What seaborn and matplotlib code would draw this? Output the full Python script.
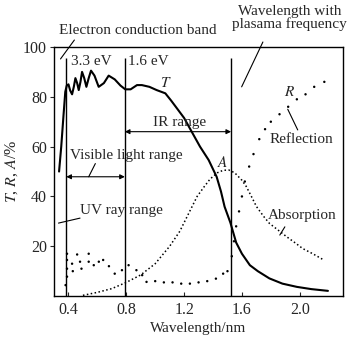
import matplotlib
matplotlib.use("Agg")
import matplotlib.pyplot as plt
import seaborn as sns
import pandas as pd

# Transmission T (%)
t_wavelength = [0.335, 0.35, 0.365, 0.378, 0.388, 0.40, 0.412, 0.425, 0.437, 0.448, 0.46,
                0.471, 0.483, 0.494, 0.509, 0.524, 0.54, 0.556, 0.58, 0.609, 0.645, 0.678,
                0.72, 0.76, 0.793, 0.83, 0.874, 0.908, 0.96, 1.01, 1.07, 1.11, 1.15, 1.20,
                1.24, 1.31, 1.37, 1.425, 1.455, 1.48, 1.52, 1.56, 1.60, 1.655, 1.71, 1.79,
                1.88, 1.98, 2.08, 2.195]
t_values = [50, 60, 72, 82, 84.5, 85, 82.5, 81, 84, 87.5, 85.5,
            82.7, 86, 90, 87.5, 84, 87.5, 90.5, 88.5, 84, 85.5, 88.5,
            87, 84.5, 83, 83, 84.7, 84.7, 84, 82.7, 81.4, 78.5, 75.4, 71.5,
            67.3, 60, 54.6, 47.9, 42, 35.9, 29.5, 21.5, 17, 12.4, 10, 7.1,
            5, 3.7, 2.8, 2.1]

# Absorption A (%)
a_wavelength = [0.5, 0.6, 0.7, 0.8, 0.9, 1.0, 1.05, 1.1, 1.17, 1.23, 1.29, 1.34, 1.38,
                1.43, 1.47, 1.51, 1.55, 1.6, 1.63, 1.67, 1.70, 1.75, 1.79, 1.85, 1.91,
                1.97, 2.02, 2.09, 2.16]
a_values = [0.3, 1.5, 3, 5.5, 8.5, 13, 16.5, 20, 26, 33, 40, 44, 47,
            49.5, 50.5, 50.6, 49.5, 46.5, 44, 39.5, 36, 32, 29.2, 26.5, 23.8,
            21.3, 19.1, 17, 14.7]

# Reflection R (%)
r_wavelength = [0.38, 0.39, 0.39, 0.39, 0.39, 0.425, 0.43, 0.46, 0.48, 0.49, 0.54, 0.54,
                0.575, 0.61, 0.64, 0.68, 0.72, 0.77, 0.816, 0.87, 0.91, 0.94, 1.0, 1.06,
                1.12, 1.18, 1.24, 1.30, 1.36, 1.42, 1.47, 1.50, 1.53, 1.545, 1.56, 1.58,
                1.60, 1.62, 1.65, 1.68, 1.72, 1.76, 1.80, 1.86, 1.92, 1.98, 2.04, 2.10, 2.17]
r_values = [4.4, 7.8, 11, 14.5, 17, 13, 10, 16.7, 13.8, 11, 17, 13.8,
            12.4, 13.8, 14.5, 12, 9, 10.4, 12.4, 10.4, 8.4, 5.7, 6, 5.5,
            5.5, 5, 5, 5.5, 6, 7, 9, 10, 16, 22, 28, 34,
            40, 46, 52, 57, 63, 67, 70, 73, 76, 79, 81, 84, 86]

x_ticks = [0.4, 0.8, 1.2, 1.6, 2.0]
y_ticks = [20, 40, 60, 80, 100]
band_edges = [0.385, 0.79, 1.525]

sns.set_theme(style="ticks")
plt.rcParams["font.family"] = ["Liberation Serif", "DejaVu Serif"]
plt.rcParams["mathtext.fontset"] = "stix"

fig = plt.figure(figsize=(3.53, 3.38), dpi=100)
ax = fig.add_axes([0.153, 0.124, 0.819, 0.737])

t_df = pd.DataFrame({"wl": t_wavelength, "v": t_values})
a_df = pd.DataFrame({"wl": a_wavelength, "v": a_values})
r_df = pd.DataFrame({"wl": r_wavelength, "v": r_values})

sns.lineplot(data=t_df, x="wl", y="v", ax=ax, color="black", linewidth=1.5, sort=False)
sns.lineplot(data=a_df, x="wl", y="v", ax=ax, color="black", linewidth=1.1,
             linestyle=(0, (1, 1.6)), sort=False)
sns.scatterplot(data=r_df, x="wl", y="v", ax=ax, color="black", s=3, marker="o",
                edgecolor="none")

for xe in band_edges:
    ax.vlines(xe, 0, 95.5, color="black", linewidth=1.0)

ax.set_xlim(0.30, 2.30)
ax.set_ylim(0, 100)
ax.set_xticks(x_ticks)
ax.set_xticklabels([f"{v:.1f}" for v in x_ticks])
ax.set_yticks(y_ticks)
ax.set_yticklabels([str(v) for v in y_ticks])
ax.tick_params(axis="x", direction="in", length=3, width=0.8, labelsize=11.5, pad=4)
ax.tick_params(axis="y", direction="out", length=3, width=0.8, labelsize=11.5, pad=2)
for sp in ax.spines.values():
    sp.set_linewidth(1.0)
    sp.set_color("black")

ax.set_xlabel("Wavelength/nm", fontsize=11, labelpad=3)
ax.set_ylabel("$T$, $R$, $A$/%", fontsize=11.5, labelpad=2)

fs = 11
# range arrows
arrow = dict(arrowstyle="<|-|>", color="black", lw=0.8, mutation_scale=7,
             shrinkA=0, shrinkB=0)
ax.annotate("", xy=(band_edges[0], 47.9), xytext=(band_edges[1], 47.9), arrowprops=arrow)
ax.annotate("", xy=(band_edges[1], 66), xytext=(band_edges[2], 66), arrowprops=arrow)

ax.text(0.41, 56.5, "Visible light range", fontsize=fs, ha="left", va="center")
ax.plot([0.586, 0.54], [53.2, 47.9], color="black", lw=0.8)
ax.text(0.483, 34.5, "UV ray range", fontsize=fs, ha="left", va="center")
ax.plot([0.331, 0.48], [29.3, 31.3], color="black", lw=0.8)
ax.text(0.985, 69.5, "IR range", fontsize=fs, ha="left", va="center")

ax.text(0.42, 94.0, "3.3 eV", fontsize=fs, ha="left", va="center")
ax.text(0.814, 94.0, "1.6 eV", fontsize=fs, ha="left", va="center")
ax.text(1.075, 85.5, "$T$", fontsize=fs, ha="center", va="center")
ax.text(1.47, 53.5, "$A$", fontsize=fs, ha="center", va="center")
ax.text(1.93, 82, "$R$", fontsize=fs, ha="center", va="center")
ax.plot([1.917, 1.986], [75, 66.7], color="black", lw=0.8)
ax.text(2.23, 63, "Reflection", fontsize=fs, ha="right", va="center")
ax.text(2.255, 32.5, "Absorption", fontsize=fs, ha="right", va="center")
ax.plot([1.897, 1.862], [27.8, 24.5], color="black", lw=0.8)

# callouts above the frame
ax.text(0.335, 106.5, "Electron conduction band", fontsize=fs, ha="left", va="center",
        clip_on=False)
ax.plot([0.345, 0.441], [95.2, 102.8], color="black", lw=0.8, clip_on=False)
ax.text(1.93, 111.5, "Wavelength with\nplasama frequency", fontsize=fs, ha="center",
        va="center", linespacing=0.95, clip_on=False)
ax.plot([1.598, 1.745], [84, 102], color="black", lw=0.8, clip_on=False)

fig.savefig("out.png", dpi=100)
